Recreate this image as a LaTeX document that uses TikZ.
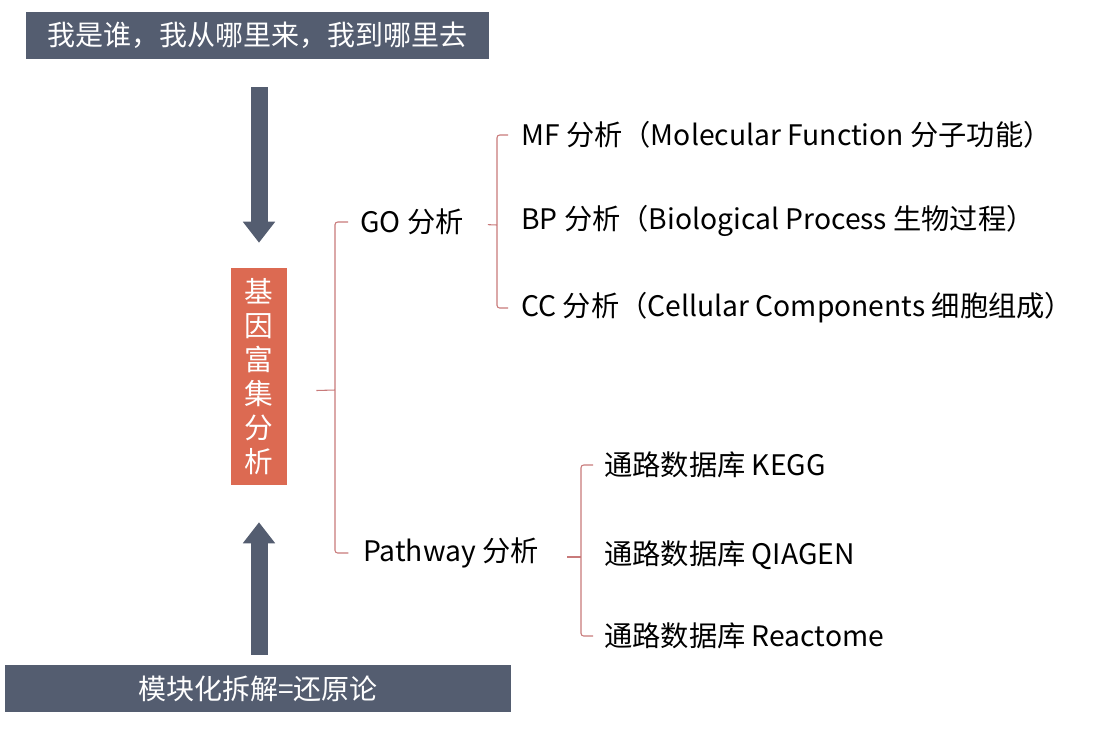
\documentclass[tikz,border=0pt]{standalone}
\usepackage{fontspec}
\setmainfont{Noto Sans CJK SC}
\usetikzlibrary{arrows.meta,calc}
\definecolor{slate}{RGB}{84,93,112}
\definecolor{brick}{RGB}{220,106,82}
\definecolor{bracecol}{RGB}{200,122,122}

\begin{document}
\begin{tikzpicture}[x=0.75pt,y=-0.75pt,
    banner/.style={rectangle,fill=slate,text=white,inner sep=0pt,
                   minimum height=35pt,font=\fontsize{21}{25}\selectfont},
    topic/.style={rectangle,fill=brick,text=white,inner sep=0pt,
                  minimum width=42pt,minimum height=162.75pt,align=center,
                  font=\fontsize{21.5}{25.5}\selectfont},
    lbl/.style={anchor=west,inner sep=0pt,font=\fontsize{21.2}{24}\selectfont},
    bigarrow/.style={slate,line width=12.75pt,
                     -{Triangle[width=23.25pt,length=15.75pt]}},
    brace/.style={draw=bracecol,line width=0.8pt,rounded corners=2pt},
  ]
  \useasboundingbox (0,0) rectangle (1110,740);

  \node[banner,minimum width=347.25pt,font=\fontsize{21}{25}\selectfont]
       (whoami) at (257.5,35.5) {我是谁，我从哪里来，我到哪里去};
  \node[topic]  (gene)   at (259,376.5) {基\\因\\富\\集\\分\\析};
  \node[banner,minimum width=379.5pt] (reduce) at (258,688.5) {模块化拆解=还原论};

  \node[lbl] (go)     at (360,222) {GO 分析};
  \node[lbl] (pw)     at (363,553) {Pathway 分析};
  \node[lbl] (mf)     at (521,135) {MF 分析（Molecular Function 分子功能）};
  \node[lbl] (bp)     at (521,221) {BP 分析（Biological Process 生物过程）};
  \node[lbl] (cc)     at (521,308) {CC 分析（Cellular Components 细胞组成）};
  \node[lbl] (kegg)   at (604,465) {通路数据库 KEGG};
  \node[lbl] (qiagen) at (604,555) {通路数据库 QIAGEN};
  \node[lbl] (react)  at (604,636) {通路数据库 Reactome};

  % big arrows
  \draw[bigarrow,shorten <=21pt,shorten >=18.75pt] (whoami.south -| gene.north) -- (gene.north);
  \draw[bigarrow,shorten <=7.5pt,shorten >=27.75pt] (reduce.north -| gene.south) -- (gene.south);

  % brackets
  \coordinate (s1) at (335,390);
  \coordinate (s2) at (497,225);
  \coordinate (s3) at (581,557);
  \draw[brace] ([xshift=-9pt]go.west) -- (go.west -| s1) -- (pw.west -| s1) -- ([xshift=-11pt]pw.west);
  \draw[brace] (gene.east) ++(21.75pt,-10.5pt) -- (s1);
  \draw[brace] ([xshift=-9.75pt]mf.west) -- (mf.west -| s2) -- (cc.west -| s2) -- ([xshift=-9.75pt]cc.west);
  \draw[brace] (go.east) ++(18pt,-2pt) -- (s2);
  \draw[brace] ([xshift=-8.25pt]kegg.west) -- (kegg.west -| s3) -- (react.west -| s3) -- ([xshift=-8.25pt]react.west);
  \draw[brace] (pw.east) ++(21pt,-3pt) -- (s3);
\end{tikzpicture}
\end{document}
